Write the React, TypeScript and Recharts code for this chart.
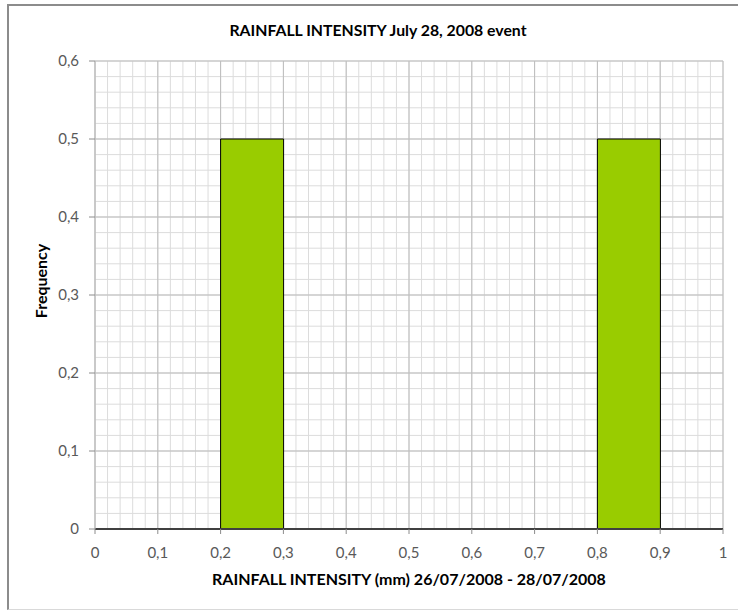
import { BarChart, Bar, XAxis, YAxis, CartesianGrid, Label } from 'recharts';

// Histogram bins (class midpoints, width 0.1 mm) and their relative frequency
const binMids = [0.05, 0.15, 0.25, 0.35, 0.45, 0.55, 0.65, 0.75, 0.85, 0.95];
const frequency = [0, 0, 0.5, 0, 0, 0, 0, 0, 0.5, 0];

const xTicks = [0, 0.1, 0.2, 0.3, 0.4, 0.5, 0.6, 0.7, 0.8, 0.9, 1];
const yTicks = [0, 0.1, 0.2, 0.3, 0.4, 0.5, 0.6];

// minor gridlines every 0.02
const xMinor = Array.from({ length: 51 }, (_, i) => (i * 2) / 100);
const yMinor = Array.from({ length: 31 }, (_, i) => (i * 2) / 100);

const TITLE = 'RAINFALL INTENSITY July 28, 2008 event';
const X_LABEL = 'RAINFALL INTENSITY (mm) 26/07/2008 - 28/07/2008';
const Y_LABEL = 'Frequency';

const data = binMids.map((mid, i) => ({ mid, freq: frequency[i] }));

const FONT = 'Lato, "Open Sans", sans-serif';
const comma = (v: number) => String(v).replace('.', ',');

const YTitle = ({ viewBox }: any) => {
  const cx = viewBox.x + 40;
  const cy = viewBox.y + viewBox.height / 2 - 14;
  return (
    <text
      x={cx}
      y={cy}
      transform={`rotate(-90, ${cx}, ${cy})`}
      textAnchor="middle"
      dominantBaseline="central"
      style={{ fontFamily: FONT, fontSize: 16, fontWeight: 700, fill: '#000' }}
    >
      {Y_LABEL}
    </text>
  );
};

export default function App() {
  return (
    <div style={{ position: 'absolute', left: 0, top: 0, width: 738, height: 610, overflow: 'hidden', background: '#fff' }}>
      {/* frame of the original screenshot */}
      <div style={{
        position: 'absolute', left: 7, top: 4, width: 740, height: 603,
        borderTop: '2px solid #8c8c8c', borderLeft: '2px solid #8c8c8c', borderBottom: '1px solid #d9d9d9',
      }} />
      <div style={{
        position: 'absolute', left: 0, width: 756, top: 20, textAlign: 'center',
        fontFamily: FONT, fontSize: 15.8, fontWeight: 700, color: '#000',
      }}>
        {TITLE}
      </div>
      <div style={{ position: 'absolute', left: 0, top: 0 }}>
        <BarChart
          width={738}
          height={610}
          data={data}
          margin={{ top: 61, right: 15, left: 0, bottom: 21 }}
          barCategoryGap={0}
          barGap={0}
        >
          <CartesianGrid
            stroke="#dcdcdc"
            strokeWidth={1}
            verticalValues={xMinor}
            horizontalValues={yMinor}
            syncWithTicks
          />
          <CartesianGrid stroke="#bdbdbd" strokeWidth={1} />
          <XAxis
            type="number"
            dataKey="mid"
            domain={[0, 1]}
            ticks={xTicks}
            interval={0}
            tickFormatter={comma}
            height={60}
            tickSize={5}
            tickMargin={13}
            axisLine={{ stroke: '#404040', strokeWidth: 2 }}
            tickLine={{ stroke: '#8c8c8c' }}
            tick={{ fill: '#595959', fontSize: 15, fontFamily: FONT }}
          >
            <Label
              value={X_LABEL}
              position="insideBottom"
              offset={4}
              style={{ fontFamily: FONT, fontSize: 16, fontWeight: 700, fill: '#000' }}
            />
          </XAxis>
          <YAxis
            type="number"
            domain={[0, 0.6]}
            ticks={yTicks}
            interval={0}
            tickFormatter={comma}
            width={95}
            tickSize={6}
            tickMargin={10}
            axisLine={{ stroke: '#bdbdbd' }}
            tickLine={{ stroke: '#8c8c8c' }}
            tick={{ fill: '#595959', fontSize: 15, fontFamily: FONT }}
          >
            <Label content={YTitle} />
          </YAxis>
          <Bar dataKey="freq" fill="#99cc00" stroke="#000" strokeWidth={1} isAnimationActive={false} />
        </BarChart>
      </div>
    </div>
  );
}
